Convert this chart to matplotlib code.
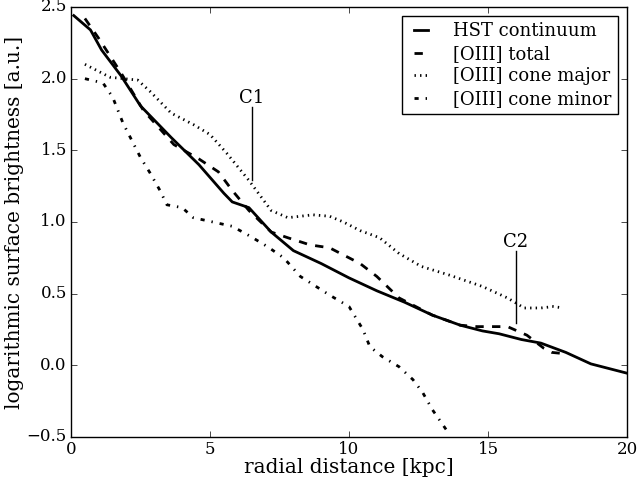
import matplotlib
matplotlib.use('Agg')
import matplotlib.pyplot as plt

plt.style.use('classic')
plt.rcParams['font.family'] = 'serif'
plt.rcParams['font.serif'] = ['DejaVu Serif']
plt.rcParams['font.size'] = 12

# radial profiles
hst_x = [0.1, 0.7, 1.1, 1.8, 2.5, 3.6, 4.6, 5.5, 5.8, 6.4, 7.2, 8.0, 9.0, 10.0,
         11.0, 12.0, 13.0, 14.0, 14.8, 15.4, 16.2, 16.9, 17.8, 18.7, 20.0]
hst_y = [2.44, 2.34, 2.20, 2.02, 1.81, 1.59, 1.40, 1.20, 1.14, 1.10, 0.93, 0.80,
         0.71, 0.61, 0.52, 0.44, 0.35, 0.28, 0.24, 0.22, 0.18, 0.155, 0.09, 0.01, -0.055]

tot_x = [0.5, 1.0, 1.8, 2.6, 3.7, 4.6, 5.3, 5.8, 6.4, 7.2, 7.8, 8.6, 9.3, 9.8,
         10.4, 11.0, 11.8, 12.4, 13.0, 14.0, 14.6, 15.7, 16.4, 17.0, 17.3, 17.8]
tot_y = [2.42, 2.28, 2.04, 1.78, 1.54, 1.44, 1.35, 1.22, 1.08, 0.93, 0.89, 0.84,
         0.82, 0.77, 0.71, 0.62, 0.47, 0.41, 0.35, 0.28, 0.27, 0.27, 0.21, 0.12, 0.09, 0.08]

maj_x = [0.5, 1.4, 2.4, 2.85, 3.6, 4.4, 5.0, 5.6, 6.4, 7.2, 7.8, 8.7, 9.3, 9.8,
         10.4, 11.1, 11.8, 12.6, 13.6, 14.8, 15.7, 16.3, 16.9, 17.35, 17.7]
maj_y = [2.10, 2.01, 1.99, 1.91, 1.76, 1.68, 1.61, 1.48, 1.29, 1.08, 1.03, 1.05,
         1.04, 1.00, 0.94, 0.89, 0.78, 0.69, 0.63, 0.55, 0.47, 0.40, 0.40, 0.41, 0.40]

min_x = [0.5, 1.15, 1.5, 1.87, 2.5, 2.85, 3.2, 3.45, 4.0, 4.4, 5.1, 5.8, 6.45,
         7.05, 7.65, 8.25, 9.3, 10.0, 10.5, 10.75, 11.2, 11.8, 12.3, 12.65, 13.0, 13.5]
min_y = [2.00, 1.97, 1.87, 1.69, 1.45, 1.34, 1.22, 1.12, 1.10, 1.03, 1.00, 0.97,
         0.90, 0.83, 0.75, 0.62, 0.49, 0.41, 0.25, 0.13, 0.06, -0.01, -0.10, -0.19,
         -0.31, -0.45]

# clump markers: label, x, y of line bottom, y of text
clumps = ['C1', 'C2']
clump_x = [6.5, 16.0]
clump_lo = [1.29, 0.295]
clump_hi = [1.80, 0.80]

fig = plt.figure(figsize=(6.38, 4.82), dpi=100, facecolor='white')
ax = fig.add_axes([0.1113, 0.0934, 0.8715, 0.8921])

ax.plot(hst_x, hst_y, 'k-', lw=2, label='HST continuum')
ax.plot(tot_x, tot_y, 'k--', lw=2, label='[OIII] total')
ax.plot(maj_x, maj_y, 'k:', lw=2, label='[OIII] cone major')
ax.plot(min_x, min_y, 'k-.', lw=2, label='[OIII] cone minor')

for name, cx, lo, hi in zip(clumps, clump_x, clump_lo, clump_hi):
    ax.plot([cx, cx], [lo, hi], 'k-', lw=1)
    ax.text(cx, hi, name, ha='center', va='bottom', fontsize=13)

ax.set_xlim(0, 20)
ax.set_ylim(-0.5, 2.5)
ax.tick_params(pad=3)
ax.set_xlabel('radial distance [kpc]', fontsize=14.4, labelpad=0)
ax.set_ylabel('logarithmic surface brightness [a.u.]', fontsize=14.4, labelpad=2)
ax.legend(loc='upper right', fontsize=13, handlelength=1.4, handletextpad=1.1,
          labelspacing=0.25, borderpad=0.35, borderaxespad=0.5)

fig.savefig('out.png', dpi=100, facecolor='white')
